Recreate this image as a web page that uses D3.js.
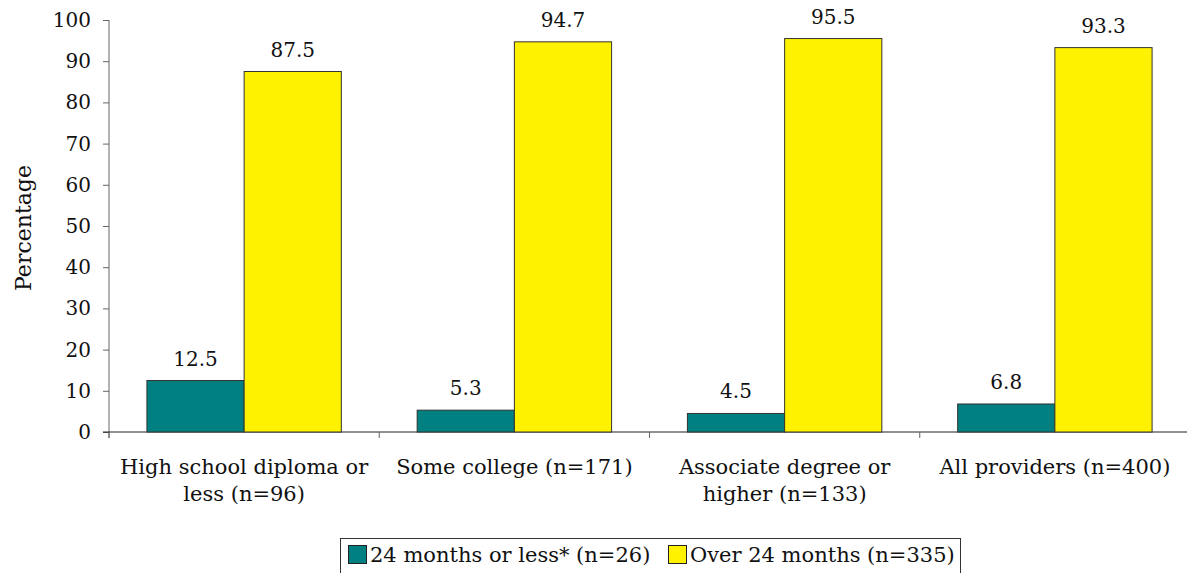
<!DOCTYPE html>
<html><head><meta charset="utf-8">
<script src="https://cdn.jsdelivr.net/npm/d3@7"></script>
<style>
html,body{margin:0;padding:0;background:#fff;}
svg text{font-family:"DejaVu Serif",Georgia,serif;fill:#111;}
</style></head>
<body>
<svg id="chart" width="1187" height="573"></svg>
<script>
const categories = [["High school diploma or","less (n=96)"],["Some college (n=171)"],["Associate degree or","higher (n=133)"],["All providers (n=400)"]];
const seriesNames = ["24 months or less* (n=26)","Over 24 months (n=335)"];
const shortValues = [12.5, 5.3, 4.5, 6.8];
const longValues = [87.5, 94.7, 95.5, 93.3];
const yTicks = [0,10,20,30,40,50,60,70,80,90,100];
const colors = ["#008080","#FFF200"];

(function(){
const svg = d3.select("#chart");
const mLeft = 109, mRight = 1190, mTop = 20, mBottom = 432;
const fs = 21;

const x0 = d3.scaleBand().domain(d3.range(categories.length)).range([mLeft,mRight]).paddingInner(0).paddingOuter(0);
const x1 = d3.scaleBand().domain([0,1]).range([0,x0.bandwidth()]).paddingOuter(0.39).paddingInner(0);
const y = d3.scaleLinear().domain([0,100]).range([mBottom,mTop]);

// Y axis
const yAxis = d3.axisLeft(y).tickValues(yTicks).tickSize(6).tickSizeOuter(0).tickPadding(12);
const gy = svg.append("g").attr("transform",`translate(${mLeft},0)`).call(yAxis);
gy.select(".domain").attr("stroke","#666").attr("stroke-width",1).attr("d",`M0,${mTop}V${mBottom+6}`);
gy.selectAll(".tick line").attr("stroke","#666");
gy.selectAll(".tick text").style("font-size","20px").attr("fill","#111");

// X axis
const gx = svg.append("g").attr("transform",`translate(0,${mBottom})`);
gx.append("line").attr("x1",mLeft-6).attr("x2",mRight).attr("y1",0).attr("y2",0).attr("stroke","#222");
gx.selectAll("line.sep").data(d3.range(categories.length+1)).join("line")
  .attr("class","sep")
  .attr("x1",i=>i<categories.length? x0(i): mRight).attr("x2",i=>i<categories.length? x0(i): mRight)
  .attr("y1",0).attr("y2",6).attr("stroke","#666");

// Bars
const data = categories.map((c,i)=>({i, vals:[shortValues[i], longValues[i]]}));
const groups = svg.append("g").selectAll("g").data(data).join("g")
  .attr("transform",d=>`translate(${x0(d.i)},0)`);
groups.selectAll("rect").data(d=>d.vals.map((v,k)=>({v,k}))).join("rect")
  .attr("x",d=>x1(d.k)).attr("width",x1.bandwidth())
  .attr("y",d=>y(d.v)).attr("height",d=>y(0)-y(d.v))
  .attr("fill",d=>colors[d.k]).attr("stroke","#333").attr("stroke-width",1);
groups.selectAll("text.val").data(d=>d.vals.map((v,k)=>({v,k}))).join("text")
  .attr("class","val")
  .attr("x",d=>x1(d.k)+x1.bandwidth()/2).attr("y",d=>y(d.v)-15)
  .attr("text-anchor","middle").style("font-size","20px")
  .text(d=>d.v.toFixed(1));

// Category labels
const cl = svg.append("g").selectAll("text").data(categories).join("text")
  .attr("x",(d,i)=>x0(i)+x0.bandwidth()/2).attr("y",474)
  .attr("text-anchor","middle").style("font-size",fs+"px");
cl.selectAll("tspan").data(d=>d).join("tspan")
  .attr("x",function(){return this.parentNode.getAttribute("x");})
  .attr("dy",(d,j)=>j===0?0:27).text(d=>d);

// Y title
svg.append("text").attr("transform","translate(31,228) rotate(-90)")
  .attr("text-anchor","middle").style("font-size","22px").text("Percentage");

// Legend
const lg = svg.append("g");
lg.append("rect").attr("x",340.5).attr("y",538.5).attr("width",620).attr("height",40)
  .attr("fill","#fff").attr("stroke","#333");
const items = [{x:348},{x:668}];
seriesNames.forEach((n,k)=>{
  lg.append("rect").attr("x",items[k].x+0.5).attr("y",545.5).attr("width",18).attr("height",18)
    .attr("fill",colors[k]).attr("stroke","#222");
  lg.append("text").attr("x",items[k].x+22).attr("y",562).style("font-size",fs+"px").text(n);
});
})();
</script>
</body></html>
